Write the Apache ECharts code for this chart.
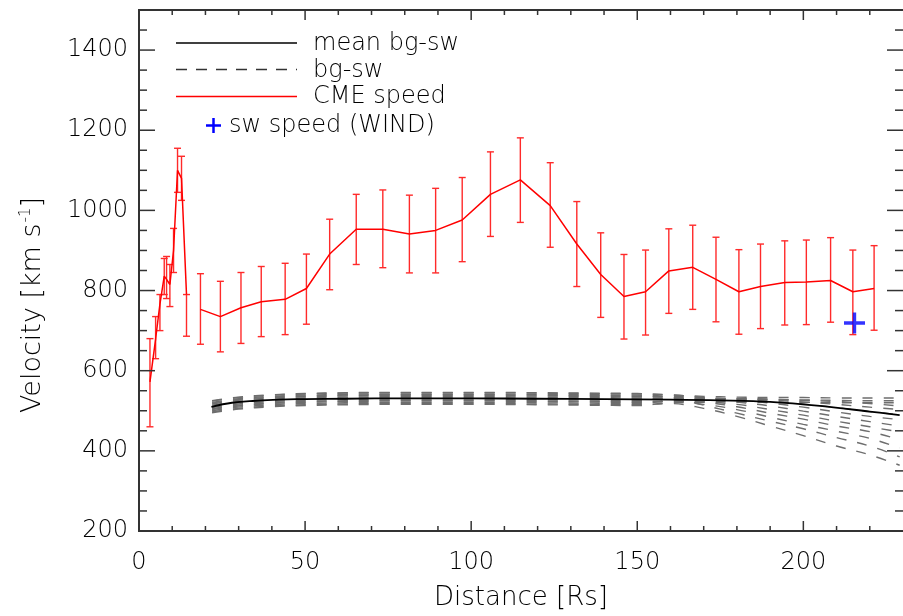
<!DOCTYPE html>
<html><head><meta charset="utf-8">
<script src="https://cdn.jsdelivr.net/npm/echarts@6/dist/echarts.min.js"></script>
<style>html,body{margin:0;padding:0;background:#fff}#c{width:903px;height:616px}</style>
</head><body><div id="c"></div>
<script>
// ---------- data ----------
const xTickValues = [0, 50, 100, 150, 200];
const xMinorTicks = [10, 20, 30, 40, 60, 70, 80, 90, 110, 120, 130, 140, 160, 170, 180, 190, 210, 220];
const yTickValues = [200, 400, 600, 800, 1000, 1200, 1400];
const yMinorTicks = [250, 300, 350, 450, 500, 550, 650, 700, 750, 850, 900, 950, 1050, 1100, 1150, 1250, 1300, 1350, 1450];

// CME speed, early cluster
const cmeA_d  = [3.3, 5.0, 6.3, 7.6, 8.3, 9.3, 10.4, 11.6, 12.8, 14.3];
const cmeA_v  = [572, 679, 766, 836, 828, 815, 900, 1100, 1080, 790];
const cmeA_lo = [460, 630, 700, 790, 780, 760, 845, 1045, 1025, 686];
const cmeA_hi = [680, 735, 790, 880, 885, 865, 955, 1155, 1135, 790];

// CME speed, later track
const cmeB_d  = [18.5, 24.5, 30.7, 36.8, 44.0, 50.4, 57.4, 65.4, 73.4, 81.4, 89.3, 97.3, 105.8, 114.8, 123.8, 131.8, 139.0, 146.0, 152.5, 159.5, 166.7, 173.7, 180.6, 187.1, 194.4, 200.9, 208.2, 214.9, 221.3];
const cmeB_v  = [753, 735, 757, 772, 778, 805, 891, 953, 953, 941, 950, 976, 1040, 1076, 1012, 916, 840, 785, 797, 849, 858, 828, 797, 810, 820, 821, 825, 797, 805];
const cmeB_hi = [842, 823, 845, 860, 868, 891, 978, 1040, 1051, 1038, 1055, 1082, 1146, 1181, 1119, 1022, 944, 890, 901, 954, 963, 933, 902, 916, 924, 926, 932, 901, 912];
const cmeB_lo = [666, 647, 668, 685, 690, 716, 802, 865, 857, 844, 844, 872, 935, 970, 908, 810, 733, 679, 689, 743, 753, 722, 691, 705, 714, 715, 721, 690, 701];

// mean background solar wind
const mean_d = [21.8, 28, 35, 42, 50, 62, 80, 100, 120, 140, 160, 175, 190, 205, 220, 229];
const mean_v = [510, 520, 525, 528, 529, 530, 531, 531, 530, 529, 528, 526, 522, 512, 498, 489];

// background solar wind ensemble (bg-sw)
const bg_d = [22, 30, 40, 50, 62, 75, 90, 105, 120, 135, 150, 160, 170, 180, 190, 200, 210, 220, 229];
const bg1  = [497, 506, 512, 515, 517, 518, 518, 518, 517, 516, 515, 518, 506, 486, 462, 438, 412, 390, 364];
const bg2  = [521, 530, 536, 539, 541, 542, 542, 542, 541, 540, 539, 534, 514, 494, 474, 455, 433, 412, 385];
const bg3  = [503, 512, 518, 521, 523, 524, 524, 524, 523, 522, 521, 524, 516, 503, 484, 466, 449, 431, 407];
const bg4  = [514, 523, 529, 532, 534, 535, 535, 535, 534, 533, 532, 532, 522, 510, 494, 479, 462, 448, 428];
const bg5  = [495, 504, 510, 513, 515, 516, 516, 516, 515, 514, 513, 520, 521, 516, 503, 489, 474, 460, 447];
const bg6  = [524, 533, 539, 542, 544, 545, 545, 545, 544, 543, 542, 540, 533, 522, 512, 499, 486, 473, 462];
const bg7  = [508, 517, 523, 526, 528, 529, 529, 529, 528, 527, 526, 530, 529, 526, 519, 509, 497, 486, 478];
const bg8  = [517, 526, 532, 535, 537, 538, 538, 538, 537, 536, 535, 536, 533, 528, 524, 517, 508, 498, 490];
const bg9  = [500, 509, 515, 518, 520, 521, 521, 521, 520, 519, 518, 525, 529, 530, 527, 522, 516, 509, 503];
const bg10 = [511, 520, 526, 529, 531, 532, 532, 532, 531, 530, 529, 531, 531, 531, 529, 526, 523, 518, 512];
const bg11 = [505, 514, 520, 523, 525, 526, 526, 526, 525, 524, 523, 523, 523, 522, 521, 521, 520, 520, 520];
const bg12 = [519, 528, 534, 537, 539, 540, 540, 540, 539, 538, 537, 534, 531, 529, 528, 527, 526, 525, 525];
const bg13 = [525, 534, 540, 543, 545, 546, 546, 546, 545, 544, 543, 539, 536, 534, 533, 533, 532, 532, 532];
const bgAll = [bg1, bg2, bg3, bg4, bg5, bg6, bg7, bg8, bg9, bg10, bg11, bg12, bg13];

// in-situ solar wind speed (WIND)
const wind_d = [215.4];
const wind_v = [719];

// ---------- chart ----------
const X_MIN = 0, X_MAX = 230, Y_MIN = 200, Y_MAX = 1500;
const FONT = 'DejaVu Sans';
const TXT = '#000';
const AX = '#333';
const zip = (a, b) => a.map((v, i) => [v, b[i]]);
const zip3 = (a, b, c) => a.map((v, i) => [v, b[i], c[i]]);

function errBar(params, api) {
  const lo = api.coord([api.value(0), api.value(1)]);
  const hi = api.coord([api.value(0), api.value(2)]);
  const w = 3.5;
  const st = { stroke: '#ff2a2a', lineWidth: 1.4 };
  return { type: 'group', children: [
    { type: 'line', shape: { x1: lo[0], y1: lo[1], x2: hi[0], y2: hi[1] }, style: st },
    { type: 'line', shape: { x1: lo[0] - w, y1: lo[1], x2: lo[0] + w, y2: lo[1] }, style: st },
    { type: 'line', shape: { x1: hi[0] - w, y1: hi[1], x2: hi[0] + w, y2: hi[1] }, style: st }
  ]};
}

// inward ticks on all four sides of the box
function tickSeries(values, side, len) {
  const data = values.map(v =>
    side === 'bottom' ? [v, Y_MIN] : side === 'top' ? [v, Y_MAX] :
    side === 'left' ? [X_MIN, v] : [X_MAX, v]);
  const dir = { bottom: [0, -1], top: [0, 1], left: [1, 0], right: [-1, 0] }[side];
  return {
    type: 'custom', data: data, silent: true, z: 10, clip: false,
    encode: { x: 0, y: 1 },
    renderItem: (params, api) => {
      const p = api.coord([api.value(0), api.value(1)]);
      return { type: 'line',
        shape: { x1: p[0], y1: p[1], x2: p[0] + dir[0] * len, y2: p[1] + dir[1] * len },
        style: { stroke: AX, lineWidth: 1.5 } };
    }
  };
}

const xCommon = {
  type: 'value', min: X_MIN, max: X_MAX, interval: 50,
  axisLine: { show: true, lineStyle: { color: AX, width: 2 } },
  axisTick: { show: false }, minorTick: { show: false },
  splitLine: { show: false }
};
const yCommon = {
  type: 'value', min: Y_MIN, max: Y_MAX, interval: 200,
  axisLine: { show: true, lineStyle: { color: AX, width: 2 } },
  axisTick: { show: false }, minorTick: { show: false },
  splitLine: { show: false }
};

const series = [];
bgAll.forEach(arr => series.push({
  type: 'line', data: zip(bg_d, arr), xAxisIndex: 0, yAxisIndex: 0,
  symbol: 'none', smooth: 0.4, silent: true, z: 2,
  lineStyle: { color: '#6e6e6e', width: 1.4, type: [10, 11] }
}));
series.push({
  type: 'line', data: zip(mean_d, mean_v), symbol: 'none', smooth: 0.4, z: 3,
  lineStyle: { color: '#000', width: 1.8 }
});
series.push({
  type: 'custom', data: zip3(cmeA_d, cmeA_lo, cmeA_hi), renderItem: errBar, z: 4,
  encode: { x: 0, y: [1, 2] }
});
series.push({
  type: 'custom', data: zip3(cmeB_d, cmeB_lo, cmeB_hi), renderItem: errBar, z: 4,
  encode: { x: 0, y: [1, 2] }
});
series.push({
  type: 'line', data: zip(cmeA_d, cmeA_v), symbol: 'none', z: 5,
  lineStyle: { color: '#ff0000', width: 1.5 }
});
series.push({
  type: 'line', data: zip(cmeB_d, cmeB_v), symbol: 'none', z: 5,
  lineStyle: { color: '#ff0000', width: 1.5 }
});
series.push({
  type: 'scatter', data: zip(wind_d, wind_v), z: 6,
  symbol: 'path://M8.4,0H11.6V20H8.4ZM0,8.4H20V11.6H0Z', symbolSize: 21,
  itemStyle: { color: '#0000ff' }
});
series.push(tickSeries(xTickValues, 'bottom', 10));
series.push(tickSeries(xMinorTicks, 'bottom', 5));
series.push(tickSeries(xTickValues, 'top', 10));
series.push(tickSeries(xMinorTicks, 'top', 5));
series.push(tickSeries(yTickValues, 'left', 16));
series.push(tickSeries(yMinorTicks, 'left', 8));
series.push(tickSeries(yTickValues, 'right', 16));
series.push(tickSeries(yMinorTicks, 'right', 8));

const legX1 = 176, legX2 = 297, legTX = 313;
const legText = (y, t, x) => ({
  type: 'text', x: x || legTX, y: y,
  style: { text: t, font: '200 24px "' + FONT + '"', fill: TXT, textVerticalAlign: 'middle' }
});

const option = {
  animation: false,
  backgroundColor: '#fff',
  textStyle: { fontFamily: FONT, fontWeight: 200 },
  grid: { left: 139, right: -4, top: 10, bottom: 81, containLabel: false },
  xAxis: [
    Object.assign({}, xCommon, {
      position: 'bottom',
      name: 'Distance [Rs]', nameLocation: 'middle', nameGap: 54,
      nameTextStyle: { fontFamily: FONT, fontWeight: 200, fontSize: 26, color: TXT },
      axisLabel: { show: true, fontFamily: FONT, fontWeight: 200, fontSize: 24, color: TXT, margin: 20, showMaxLabel: false,
        formatter: v => (xTickValues.indexOf(v) >= 0 ? String(v) : '') }
    }),
    Object.assign({}, xCommon, { position: 'top', axisLabel: { show: false } })
  ],
  yAxis: [
    Object.assign({}, yCommon, {
      position: 'left',
      axisLabel: { show: true, fontFamily: FONT, fontWeight: 200, fontSize: 24, color: TXT, margin: 11, showMaxLabel: false,
        formatter: v => (yTickValues.indexOf(v) >= 0 ? String(v) : '') }
    }),
    Object.assign({}, yCommon, { position: 'right', axisLabel: { show: false } })
  ],
  series: series,
  graphic: [
    { type: 'line', shape: { x1: legX1, y1: 43, x2: legX2, y2: 43 }, style: { stroke: '#000', lineWidth: 1.6 } },
    { type: 'line', shape: { x1: legX1, y1: 69.5, x2: legX2, y2: 69.5 }, style: { stroke: '#333', lineWidth: 1.6, lineDash: [11, 9] } },
    { type: 'line', shape: { x1: legX1, y1: 96.5, x2: legX2, y2: 96.5 }, style: { stroke: '#ff0000', lineWidth: 1.6 } },
    { type: 'line', shape: { x1: 206, y1: 125.5, x2: 221, y2: 125.5 }, style: { stroke: '#0000ff', lineWidth: 2.5 } },
    { type: 'line', shape: { x1: 213.5, y1: 118, x2: 213.5, y2: 133 }, style: { stroke: '#0000ff', lineWidth: 2.5 } },
    legText(44, 'mean bg-sw'),
    legText(71, 'bg-sw'),
    legText(97, 'CME speed'),
    legText(126, 'sw speed (WIND)', 229),
    {
      type: 'text', x: 33, y: 305, rotation: Math.PI / 2,
      style: {
        text: 'Velocity [km s{sup|-1}]',
        font: '200 27px "' + FONT + '"', fill: TXT,
        textAlign: 'center', textVerticalAlign: 'middle',
        rich: { sup: { font: '200 15px "' + FONT + '"', fill: TXT, verticalAlign: 'top', padding: [0, 0, 13, 1] } }
      }
    }
  ]
};

const chart = echarts.init(document.getElementById('c'), null, { renderer: 'canvas' });
chart.setOption(option);
</script>
</body></html>
